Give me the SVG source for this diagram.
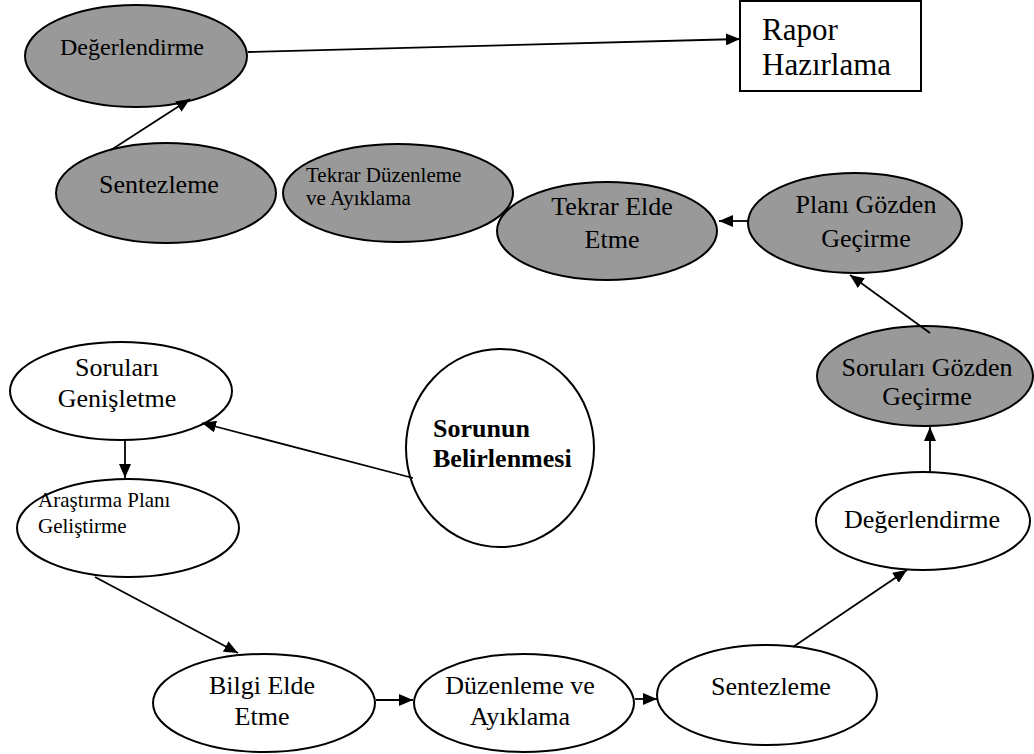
<svg xmlns="http://www.w3.org/2000/svg" width="1034" height="754" viewBox="0 0 1034 754">
<defs>
<marker id="ah" markerWidth="14" markerHeight="12" refX="14" refY="6" orient="auto" markerUnits="userSpaceOnUse">
<path d="M0,0 L14,6 L0,12 z" fill="#000"/>
</marker>
<style>
.g{fill:#999999;stroke:#000;stroke-width:2}
.w{fill:#fff;stroke:#000;stroke-width:2}
.t{font-size:26px;text-anchor:middle}
.s{font-size:21px}
.c{stroke:#000;stroke-width:1.8;fill:none;marker-end:url(#ah)}
</style>
</defs>
<rect width="1034" height="754" fill="#fff"/>
<g font-family="Liberation Serif, Times New Roman, serif" fill="#000">
<g id="degerlendirme-top">
<ellipse class="g" cx="136" cy="56" rx="111" ry="51"/>
<text x="132" y="55" font-size="24" text-anchor="middle">Değerlendirme</text>
</g>
<g id="rapor">
<rect class="w" x="740" y="1" width="181" height="90"/>
<text x="762" y="40" font-size="31">Rapor</text>
<text x="762" y="75" font-size="31">Hazırlama</text>
</g>
<g id="sentezleme-top">
<ellipse class="g" cx="166" cy="193" rx="110" ry="50"/>
<text class="t" x="159" y="193">Sentezleme</text>
</g>
<g id="tekrar-duzenleme">
<ellipse class="g" cx="398" cy="193" rx="115" ry="49"/>
<text class="s" x="306" y="182">Tekrar Düzenleme</text>
<text class="s" x="306" y="205">ve Ayıklama</text>
</g>
<g id="tekrar-elde">
<ellipse class="g" cx="607" cy="231" rx="110" ry="49"/>
<text class="t" x="612" y="215">Tekrar Elde</text>
<text class="t" x="612" y="248">Etme</text>
</g>
<g id="plani-gozden">
<ellipse class="g" cx="855" cy="223" rx="107" ry="50"/>
<text class="t" x="866" y="213">Planı Gözden</text>
<text class="t" x="866" y="247">Geçirme</text>
</g>
<g id="sorulari-gozden">
<ellipse class="g" cx="925" cy="376" rx="108" ry="50"/>
<text class="t" x="927" y="376">Soruları Gözden</text>
<text class="t" x="927" y="405">Geçirme</text>
</g>
<g id="sorulari-genisletme">
<ellipse class="w" cx="121" cy="391" rx="111" ry="49"/>
<text class="t" x="117" y="376">Soruları</text>
<text class="t" x="117" y="407">Genişletme</text>
</g>
<g id="sorunun-belirlenmesi">
<ellipse class="w" cx="500" cy="448" rx="94" ry="99"/>
<text x="433" y="437" font-size="26" font-weight="bold">Sorunun</text>
<text x="433" y="467" font-size="26" font-weight="bold">Belirlenmesi</text>
</g>
<g id="arastirma-plani">
<ellipse class="w" cx="128" cy="528" rx="111" ry="49"/>
<text class="s" x="38" y="507">Araştırma Planı</text>
<text class="s" x="38" y="533">Geliştirme</text>
</g>
<g id="degerlendirme-right">
<ellipse class="w" cx="923" cy="521" rx="107" ry="49"/>
<text class="t" x="922" y="528">Değerlendirme</text>
</g>
<g id="bilgi-elde">
<ellipse class="w" cx="264" cy="703" rx="111" ry="49"/>
<text class="t" x="262" y="694">Bilgi Elde</text>
<text class="t" x="262" y="725">Etme</text>
</g>
<g id="duzenleme">
<ellipse class="w" cx="524" cy="703" rx="110" ry="49"/>
<text class="t" x="520" y="694">Düzenleme ve</text>
<text class="t" x="520" y="725">Ayıklama</text>
</g>
<g id="sentezleme-bottom">
<ellipse class="w" cx="767" cy="695" rx="110" ry="50"/>
<text class="t" x="771" y="695">Sentezleme</text>
</g>
</g>
<g id="connectors">
<path class="c" d="M111,150 L190,99"/>
<path class="c" d="M248,52 L740,39"/>
<path class="c" d="M748,221 L719,221"/>
<path class="c" d="M930,333 L850,275"/>
<path class="c" d="M930,472 L930,427"/>
<path class="c" d="M793,647 L907,570"/>
<path class="c" d="M635,699 L657,699"/>
<path class="c" d="M376,700 L413,700"/>
<path class="c" d="M95,577 L238,653"/>
<path class="c" d="M413,478 L202,423"/>
<path class="c" d="M125,440 L125,478"/>
</g>
</svg>
